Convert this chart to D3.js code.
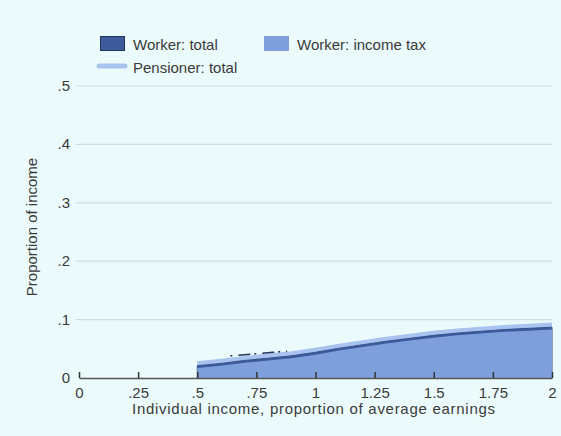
<!DOCTYPE html>
<html><head><meta charset="utf-8">
<script src="https://cdn.jsdelivr.net/npm/d3@7"></script>
<style>body{margin:0;background:#ebfafb}svg{display:block}</style>
</head><body>
<script>
const incomes = [0.5,0.6,0.7,0.8,0.9,1.0,1.1,1.2,1.3,1.4,1.5,1.6,1.7,1.8,1.9,2.0];
const workerTotal = [0.021,0.025,0.030,0.034,0.038,0.044,0.051,0.057,0.063,0.068,0.073,0.077,0.080,0.083,0.085,0.087];
const workerIncomeTax = [0.017,0.021,0.026,0.030,0.034,0.040,0.047,0.053,0.059,0.064,0.069,0.073,0.076,0.079,0.081,0.083];
const pensionerTotal = [0.025,0.029,0.034,0.038,0.042,0.048,0.055,0.061,0.067,0.072,0.077,0.081,0.084,0.087,0.089,0.091];
const pensionerDashX = [0.64,0.70,0.76,0.82,0.88];
const pensionerDashY = [0.038,0.040,0.042,0.044,0.046];
const xTicks = [0,0.25,0.5,0.75,1,1.25,1.5,1.75,2];
const xTickLabels = ["0",".25",".5",".75","1","1.25","1.5","1.75","2"];
const yTicks = [0,0.1,0.2,0.3,0.4,0.5];
const yTickLabels = ["0",".1",".2",".3",".4",".5"];

const W=561,H=436;
const svg=d3.select("body").append("svg").attr("width",W).attr("height",H);
svg.append("rect").attr("width",W).attr("height",H).attr("fill","#ebfafb");
const x=d3.scaleLinear().domain([0,2]).range([79,552]);
const y=d3.scaleLinear().domain([0,0.5]).range([378,86]);
const font="'Liberation Sans', Arial, sans-serif";
const txt="#3a3a3a";

svg.append("g").selectAll("line").data(yTicks.filter(d=>d>0)).join("line")
 .attr("x1",76).attr("x2",552).attr("y1",d=>y(d)).attr("y2",d=>y(d))
 .attr("stroke","#c9dde4").attr("stroke-width",1.2);

const pts=incomes.map((v,i)=>i);
const area=(arr)=>d3.area().x(i=>x(incomes[i])).y0(y(0)).y1(i=>y(arr[i]));
svg.append("path").datum(pts).attr("d",d3.line().x(i=>x(incomes[i])).y(i=>y(pensionerTotal[i]))).attr("fill","none").attr("stroke","#a8c3ef").attr("stroke-width",4.5);
svg.append("path").datum(pts).attr("d",area(workerTotal)).attr("fill","#3d5b9b").attr("stroke","#34508c").attr("stroke-width",1);
svg.append("path").datum(pts).attr("d",area(workerIncomeTax)).attr("fill","#7e9fdc");
svg.append("path").datum(pensionerDashX.map((v,i)=>i)).attr("d",d3.line().x(i=>x(pensionerDashX[i])).y(i=>y(pensionerDashY[i])))
 .attr("fill","none").attr("stroke","#23345a").attr("stroke-width",1.5).attr("stroke-dasharray","2,6,12,4");

const xa=svg.append("g").attr("transform",`translate(0,${y(0)})`)
 .call(d3.axisBottom(x).tickValues(xTicks).tickFormat((d,i)=>xTickLabels[i]).tickSizeInner(-6).tickSizeOuter(0).tickPadding(9));
xa.select(".domain").attr("stroke","#555").attr("stroke-width",1.5);
xa.selectAll(".tick line").attr("stroke","#333").attr("stroke-width",1.5);
xa.selectAll("text").attr("font-family",font).attr("font-size",15).attr("fill",txt);

svg.append("g").selectAll("text").data(yTicks).join("text")
 .attr("x",70).attr("y",d=>y(d)+5).attr("text-anchor","end")
 .attr("font-family",font).attr("font-size",15).attr("fill",txt).text((d,i)=>yTickLabels[i]);

svg.append("text").attr("x",132).attr("y",414).attr("textLength",363).attr("lengthAdjust","spacing").attr("font-family",font).attr("font-size",15).attr("fill",txt)
 .text("Individual income, proportion of average earnings");
svg.append("text").attr("transform","translate(37,227) rotate(-90)").attr("text-anchor","middle").attr("font-family",font).attr("font-size",15).attr("fill",txt)
 .text("Proportion of income");

const lg=svg.append("g");
lg.append("rect").attr("x",100.5).attr("y",36.5).attr("width",24).attr("height",14).attr("fill","#3d5b9b").attr("stroke","#23345a");
lg.append("text").attr("x",133).attr("y",50).attr("font-family",font).attr("font-size",15).attr("fill",txt).text("Worker: total");
lg.append("rect").attr("x",264.5).attr("y",36.5).attr("width",24).attr("height",14).attr("fill","#7e9fdc").attr("stroke","#7e9fdc");
lg.append("text").attr("x",297).attr("y",50).attr("font-family",font).attr("font-size",15).attr("fill",txt).text("Worker: income tax");
lg.append("line").attr("x1",99).attr("x2",125).attr("y1",66).attr("y2",66).attr("stroke","#a8c3ef").attr("stroke-width",5).attr("stroke-linecap","round");
lg.append("text").attr("x",133).attr("y",73).attr("font-family",font).attr("font-size",15).attr("fill",txt).text("Pensioner: total");
</script>
</body></html>
